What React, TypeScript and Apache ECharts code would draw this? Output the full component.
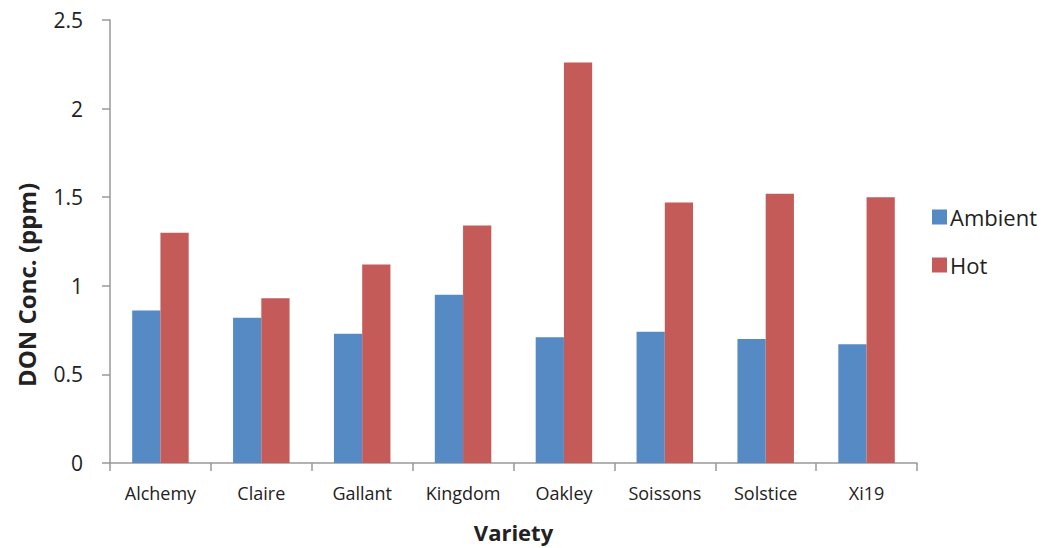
import React, { useEffect, useRef } from "react";
import * as echarts from "echarts";

const categories = ["Alchemy", "Claire", "Gallant", "Kingdom", "Oakley", "Soissons", "Solstice", "Xi19"];
const ambient = [0.86, 0.82, 0.73, 0.95, 0.71, 0.74, 0.70, 0.67];
const hot = [1.30, 0.93, 1.12, 1.34, 2.26, 1.47, 1.52, 1.50];
const yTicks = [0, 0.5, 1, 1.5, 2, 2.5];
const yTitle = "DON Conc. (ppm)";
const xTitle = "Variety";

export default function App() {
  const ref = useRef<HTMLDivElement>(null);
  useEffect(() => {
    if (!ref.current) return;
    const chart = echarts.init(ref.current, undefined, { renderer: "svg" });
    const font = "'Open Sans', 'Noto Sans', sans-serif";
    chart.setOption({
      animation: false,
      backgroundColor: "#ffffff",
      textStyle: { fontFamily: font },
      grid: { left: 110, right: 128, top: 20, bottom: 85, containLabel: false, outerBoundsMode: "none" },
      graphic: [
        {
          type: "text",
          x: 26,
          y: 285,
          rotation: Math.PI / 2,
          style: {
            text: yTitle,
            fontSize: 24,
            fontWeight: "bold",
            fontFamily: font,
            fill: "#222",
            textAlign: "center",
            textVerticalAlign: "middle",
          },
        },
      ],
      legend: {
        orient: "vertical",
        left: 927,
        top: 201,
        itemWidth: 15,
        itemHeight: 15,
        itemGap: 26,
        icon: "rect",
        textStyle: { fontSize: 22, color: "#222", fontFamily: font, padding: [0, 0, 0, -2] },
        data: ["Ambient", "Hot"],
      },
      xAxis: {
        type: "category",
        data: categories,
        name: xTitle,
        nameLocation: "middle",
        nameGap: 58,
        nameTextStyle: { fontSize: 22, fontWeight: "bold", color: "#222", fontFamily: font },
        axisLine: { lineStyle: { color: "#999", width: 1.5 } },
        axisTick: { show: true, length: 8, alignWithLabel: false, lineStyle: { color: "#999", width: 1.5 } },
        axisLabel: { fontSize: 18, color: "#222", margin: 21, fontFamily: font },
      },
      yAxis: {
        type: "value",
        min: yTicks[0],
        max: yTicks[yTicks.length - 1],
        interval: 0.5,
        axisLine: { show: true, lineStyle: { color: "#999", width: 1.5 } },
        axisTick: { show: true, length: 8, lineStyle: { color: "#999", width: 1.5 } },
        splitLine: { show: false },
        axisLabel: { fontSize: 21, color: "#222", margin: 27, fontFamily: font },
      },
      series: [
        {
          name: "Ambient",
          type: "bar",
          data: ambient,
          barGap: "0%",
          barCategoryGap: "44%",
          itemStyle: { color: "#558AC5" },
        },
        {
          name: "Hot",
          type: "bar",
          data: hot,
          barGap: "0%",
          barCategoryGap: "44%",
          itemStyle: { color: "#C55B58" },
        },
      ],
    });
    return () => chart.dispose();
  }, []);
  return <div ref={ref} style={{ position: "fixed", left: 0, top: 0, width: 1045, height: 548 }} />;
}
